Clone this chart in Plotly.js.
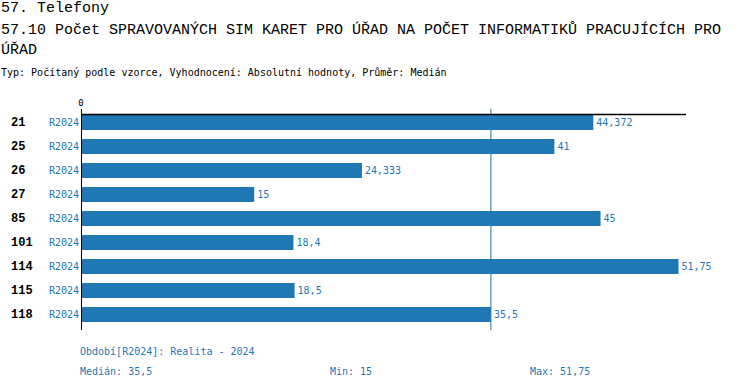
<!DOCTYPE html>
<html>
<head>
<meta charset="utf-8">
<script src="https://cdn.plot.ly/plotly-3.0.1.min.js"></script>
<style>html,body{margin:0;padding:0;background:#fff;}</style>
</head>
<body>
<div id="chart" style="width:750px;height:390px;"></div>
<script>
const categories = ["21", "25", "26", "27", "85", "101", "114", "115", "118"];
const periodLabels = ["R2024", "R2024", "R2024", "R2024", "R2024", "R2024", "R2024", "R2024", "R2024"];
const values = [44.372, 41, 24.333, 15, 45, 18.4, 51.75, 18.5, 35.5];
const valueLabels = ["44,372", "41", "24,333", "15", "45", "18,4", "51,75", "18,5", "35,5"];
const medianValue = 35.5;
const medianLabel = "35,5";
const minLabel = "15";
const maxLabel = "51,75";
const titleLine1 = "57. Telefony";
const titleLine2 = "57.10 Počet SPRAVOVANÝCH SIM KARET PRO ÚŘAD NA POČET INFORMATIKŮ PRACUJÍCÍCH PRO";
const titleLine3 = "ÚŘAD";
const subtitle = "Typ: Počítaný podle vzorce, Vyhodnocení: Absolutní hodnoty, Průměr: Medián";
const periodNote = "Období[R2024]: Realita - 2024";

const MONO = "Liberation Mono, DejaVu Sans Mono, monospace";
const SMALL = "DejaVu Sans Mono, Liberation Mono, monospace";
const BLUE = "#1f77b4";

const trace = {
  type: "bar",
  orientation: "h",
  y: categories,
  x: values,
  width: 0.62,
  marker: {color: BLUE},
  text: valueLabels,
  textposition: "outside",
  cliponaxis: false,
  constraintext: "none",
  textfont: {family: SMALL, size: 10, color: BLUE},
  hoverinfo: "none"
};

const ann = [];
function txt(x, y, text, size, color, fam) {
  ann.push({xref: "paper", yref: "paper", x: x, y: y, text: text,
    showarrow: false, xanchor: "left", yanchor: "middle", borderpad: 0,
    font: {family: fam, size: size, color: color}});
}
txt(-0.1339, 1.4525, titleLine1, 15, "#000", MONO);
txt(-0.1339, 1.3575, titleLine2, 15, "#000", MONO);
txt(-0.1339, 1.267, titleLine3, 15, "#000", MONO);
txt(-0.1339, 1.163, subtitle, 10, "#000", SMALL);
txt(-0.0033, -0.0995, periodNote, 10, BLUE, SMALL);
txt(-0.0033, -0.19, "Medián: " + medianLabel, 10, BLUE, SMALL);
txt(0.41, -0.19, "Min: " + minLabel, 10, BLUE, SMALL);
txt(0.7405, -0.19, "Max: " + maxLabel, 10, BLUE, SMALL);

categories.forEach((c, i) => {
  ann.push({xref: "paper", yref: "y", x: -0.119, y: i, text: "<b>" + c + "</b>",
    showarrow: false, xanchor: "left", yanchor: "middle",
    font: {family: MONO, size: 12, color: "#000"}});
  ann.push({xref: "paper", yref: "y", x: -0.0554, y: i, text: periodLabels[i],
    showarrow: false, xanchor: "left", yanchor: "middle",
    font: {family: SMALL, size: 10, color: BLUE}});
});

const layout = {
  width: 750, height: 390,
  margin: {l: 81, r: 64, t: 109, b: 60, pad: 0},
  paper_bgcolor: "#fff", plot_bgcolor: "#fff",
  showlegend: false,
  xaxis: {range: [0, 52.4], side: "top", showgrid: false, zeroline: false, showline: false,
    tickmode: "array", tickvals: [0], ticktext: ["0"], ticks: "",
    tickfont: {family: SMALL, size: 9, color: "#000"}, fixedrange: true},
  yaxis: {type: "category", categoryorder: "array", categoryarray: categories,
    range: [8.646, -0.5625], showgrid: false, zeroline: false, showline: false,
    showticklabels: false, ticks: "", fixedrange: true},
  shapes: [
    {type: "line", xref: "x", yref: "paper", x0: medianValue, x1: medianValue, y0: 0, y1: 1,
      line: {color: "#2e6d99", width: 1}, layer: "below"},
    {type: "line", xref: "x", yref: "paper", x0: 0, x1: 52.4, y0: 0.975, y1: 0.975,
      line: {color: "#000", width: 1.5}},
    {type: "line", xref: "x", yref: "paper", x0: 0, x1: 0, y0: 0, y1: 1,
      line: {color: "#000", width: 2}}
  ],
  annotations: ann
};

Plotly.newPlot("chart", [trace], layout, {displayModeBar: false, staticPlot: true});
</script>
</body>
</html>
